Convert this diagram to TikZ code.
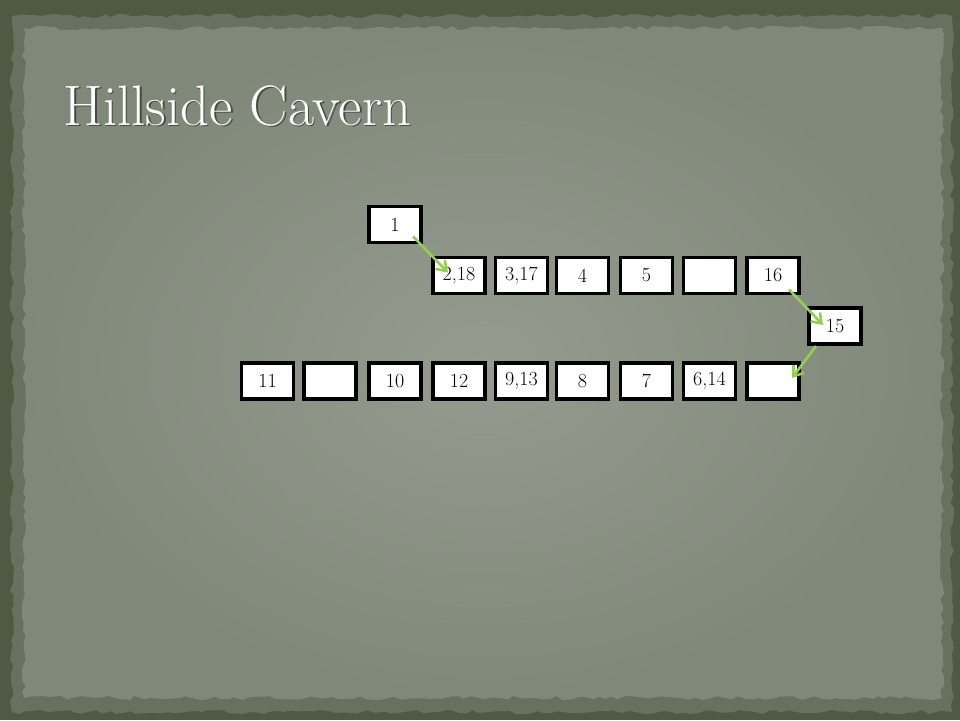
\documentclass[tikz,border=0pt]{standalone}
\usetikzlibrary{arrows.meta, positioning, calc, decorations.pathmorphing}
\definecolor{frameolive}{HTML}{4F5943}
\definecolor{bandolive}{HTML}{687160}
\definecolor{paperin}{HTML}{959C8F}
\definecolor{paperout}{HTML}{80887A}
\definecolor{walkgreen}{HTML}{92D050}
\tikzset{
    room/.style={draw=black, line width=3.6pt, fill=white, minimum width=52pt, minimum height=36pt,
        inner sep=0pt, font=\fontsize{20}{20}\selectfont},
    walk/.style={draw=walkgreen, line width=2.6pt, -{Straight Barb[length=9pt,width=13pt]}},
    torn/.style={decorate, decoration={random steps, segment length=7pt, amplitude=2.2pt}}
}
\begin{document}
\begin{tikzpicture}[x=1pt, y=-1pt]
    % background
    \fill[frameolive] (0,0) rectangle (960,720);
    \fill[bandolive, torn] (12,16) rectangle (952,712);
    \shade[torn, inner color=paperin, outer color=paperout] (24,28) rectangle (942,698);
    \useasboundingbox (0,0) rectangle (960,720);
    % title
    \node[anchor=base west, text=black, opacity=0.45] (shadow) at (61.5,126.5) {\fontsize{57}{57}\selectfont Hillside Cavern};
    \node[anchor=base west, text=white] (title) at (60,125) {\fontsize{57}{57}\selectfont Hillside Cavern};
    % rooms
    \node[room] (r1) at (395,224.5) {1};
    \node[room] (r218) at (459,275.5) {2,18};
    \node[room] (r317) at (521.5,275.5) {3,17};
    \node[room] (r4) at (582.5,275.5) {4};
    \node[room] (r5) at (646.5,275.5) {5};
    \node[room] (ra) at (709.5,275.5) {};
    \node[room] (r16) at (773,275.5) {16};
    \node[room] (r15) at (835,326) {15};
    \node[room] (r11) at (267.5,381) {11};
    \node[room] (rb) at (330,381) {};
    \node[room] (r10) at (395,381) {10};
    \node[room] (r12) at (459,381) {12};
    \node[room] (r913) at (521.5,381) {9,13};
    \node[room] (r8) at (582.5,381) {8};
    \node[room] (r7) at (646.5,381) {7};
    \node[room] (r614) at (709.5,381) {6,14};
    \node[room] (rc) at (773,381) {};
    % path through the cavern
    \draw[walk] ([shift={(18,12)}]r1.center) -- ([shift={(-11,-3)}]r218.center);
    \draw[walk] ([shift={(16,14)}]r16.center) -- ([shift={(-12,-1)}]r15.center);
    \draw[walk] ([shift={(-19,20)}]r15.center) -- ([shift={(19,-3)}]rc.center);
\end{tikzpicture}
\end{document}
